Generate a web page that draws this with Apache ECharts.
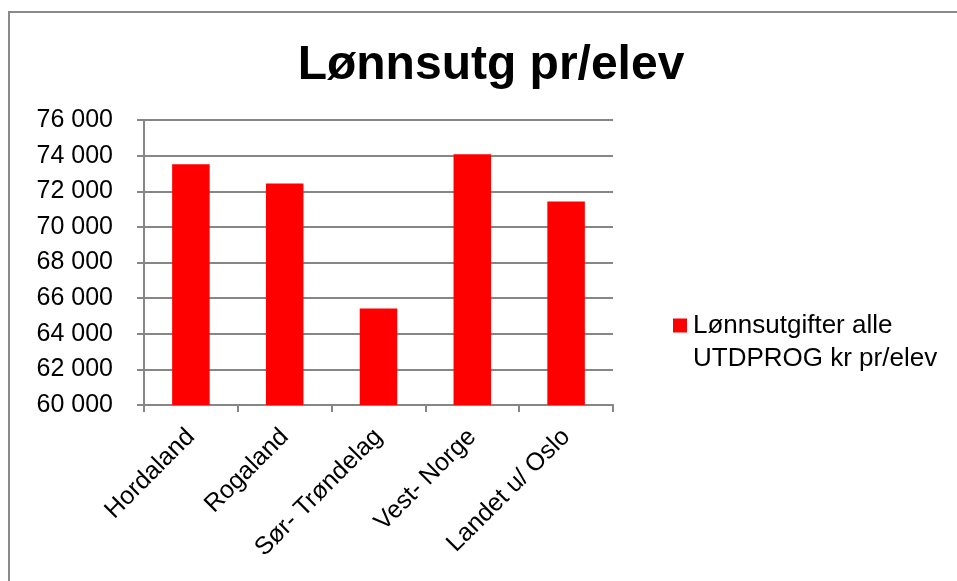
<!DOCTYPE html>
<html><head><meta charset="utf-8">
<script src="https://cdn.jsdelivr.net/npm/echarts@6/dist/echarts.min.js"></script>
<style>html,body{margin:0;padding:0;background:#fff}#c{width:957px;height:581px}</style>
</head><body><div id="c"></div>
<script>
const titleText = 'Lønnsutg pr/elev';
const categories = ['Hordaland', 'Rogaland', 'Sør- Trøndelag', 'Vest- Norge', 'Landet u/ Oslo'];
const seriesName = 'Lønnsutgifter alle\nUTDPROG kr pr/elev';
const values = [73520, 72430, 65420, 74080, 71420];
const yMin = 60000, yMax = 76000, yStep = 2000;

const chart = echarts.init(document.getElementById('c'), null, {renderer: 'canvas'});
const font = 'Liberation Sans, Arial, sans-serif';
chart.setOption({
  animation: false,
  graphic: [{type: 'rect', shape: {x: 9, y: 12, width: 1000, height: 600}, style: {fill: 'none', stroke: '#8a8a8a', lineWidth: 2}}],
  title: {text: titleText, left: 486, textAlign: 'center', top: 37,
    textStyle: {fontFamily: font, fontSize: 48, fontWeight: 'bold', color: '#000'}},
  legend: {data: [seriesName], left: 668, top: 271, orient: 'vertical', icon: 'rect', itemWidth: 14, itemHeight: 14, itemGap: 6,
    formatter: n => '\n' + n,
    textStyle: {fontFamily: font, fontSize: 26, color: '#000', lineHeight: 33, padding: [0,0,0,1]}},
  grid: {left: 144, top: 120, right: 344, bottom: 176, containLabel: false},
  xAxis: {type: 'category', data: categories,
    axisLine: {lineStyle: {color: '#868686', width: 2}},
    axisTick: {show: true, length: 7, lineStyle: {color: '#868686', width: 2}},
    axisLabel: {rotate: 45, fontFamily: font, fontSize: 25, color: '#000', margin: 28, interval: 0}},
  yAxis: {type: 'value', min: yMin, max: yMax, interval: yStep,
    axisLine: {show: true, lineStyle: {color: '#868686', width: 2}},
    axisTick: {show: true, length: 7, lineStyle: {color: '#868686', width: 2}},
    splitLine: {lineStyle: {color: '#868686', width: 2}},
    axisLabel: {fontFamily: font, fontSize: 25, color: '#000', margin: 31,
      formatter: v => String(v).replace(/\B(?=(\d{3})+(?!\d))/g, ' ')}},
  series: [{name: seriesName, type: 'bar', data: values, barWidth: '40%',
    itemStyle: {color: '#ff0000'}}]
});
</script></body></html>
